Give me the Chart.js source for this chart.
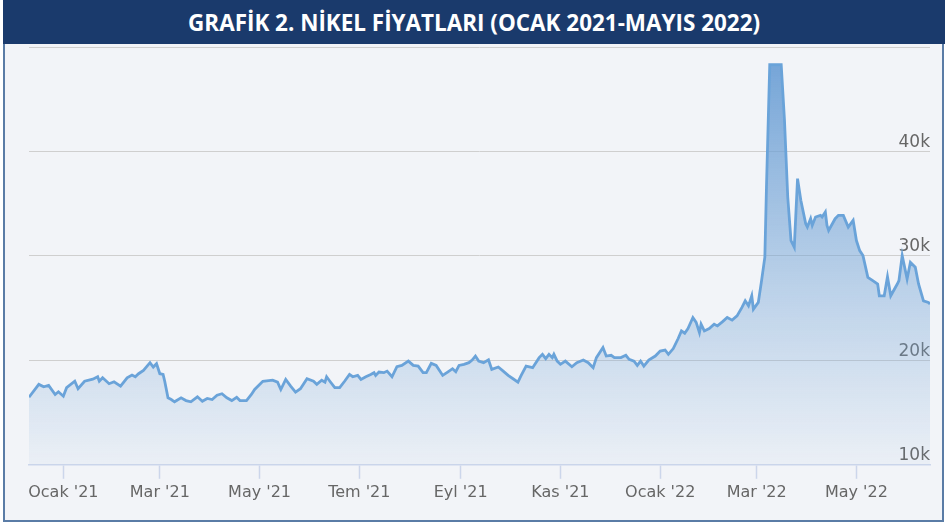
<!DOCTYPE html>
<html>
<head>
<meta charset="utf-8">
<script src="https://cdn.jsdelivr.net/npm/chart.js@4.4.1/dist/chart.umd.min.js"></script>
<style>
  html, body { margin: 0; padding: 0; background: #ffffff; }
  #wrap { position: absolute; left: 0; top: 0; width: 945px; height: 525px; overflow: hidden; background: #fff; }
  #frame { position: absolute; left: 3px; top: 0; width: 937px; height: 520px; border: 2px solid #5a7ca6; border-top: none; background: #f2f4f8; }
  #banner { position: absolute; left: 3px; top: 0; width: 942px; height: 44px; background: #1a3a6c; text-align: center; }
  #title { display: inline-block; color: #fff; font-family: "Open Sans", "Liberation Sans", sans-serif; font-weight: bold;
    font-size: 23px; line-height: 44px; white-space: nowrap; transform-origin: 50% 50%; }
  #c { position: absolute; left: 5px; top: 44px; }
</style>
</head>
<body>
<div id="wrap">
  <div id="frame"></div>
  <div id="banner"><span id="title">GRAFİK 2. NİKEL FİYATLARI (OCAK 2021-MAYIS 2022)</span></div>
  <canvas id="c" width="935" height="476"></canvas>
</div>
<script>
// Days since 1 Jan 2021
const days = [-21,-15,-12,-9,-5,-3,0,2,7,9,13,18,21,22,24,28,31,35,39,42,44,46,49,53,55,57,59,61,62,64,66,68,72,75,78,82,85,88,91,94,97,100,103,106,108,112,115,117,122,128,131,133,136,139,142,145,149,153,155,158,160,161,163,166,169,172,175,177,180,182,185,188,190,191,193,196,198,201,204,207,211,214,217,220,222,225,228,232,235,238,240,242,245,248,250,252,254,257,260,262,266,269,272,275,278,280,283,287,291,293,295,297,299,300,302,304,307,311,314,318,321,324,326,330,332,335,337,341,344,346,349,351,353,355,358,362,365,368,370,373,376,378,380,382,385,387,389,390,392,395,398,400,403,406,409,412,415,417,419,421,422,425,427,429,430,432,439,441,443,445,447,449,451,454,455,457,458,460,463,464,466,467,468,472,474,477,480,483,485,487,489,492,495,498,499,502,504,506,510,511,513,516,518,521,523,526,529,530];
// Nickel price, thousand USD/ton
const prices = [16.47,17.7,17.47,17.6,16.73,16.99,16.57,17.38,18.0,17.28,18.0,18.2,18.43,18.0,18.33,17.76,17.95,17.53,18.33,18.59,18.43,18.72,19.04,19.78,19.36,19.68,18.72,18.65,18.0,16.41,16.25,16.03,16.41,16.15,16.03,16.51,16.09,16.35,16.25,16.66,16.8,16.41,16.15,16.47,16.15,16.15,16.73,17.21,18.0,18.1,17.91,17.21,18.17,17.53,16.95,17.28,18.24,18.0,17.7,18.1,17.91,18.43,18.0,17.38,17.38,18.0,18.65,18.43,18.56,18.17,18.43,18.65,18.82,18.56,18.88,18.82,18.97,18.43,19.39,19.52,19.93,19.52,19.45,18.82,18.82,19.71,19.52,18.56,18.88,19.2,18.91,19.52,19.62,19.78,20.03,20.41,19.93,19.78,20.05,19.13,19.36,18.97,18.56,18.24,17.91,18.56,19.45,19.3,20.26,20.58,20.16,20.58,20.26,20.58,19.93,19.62,19.93,19.39,19.78,20.03,19.78,19.3,20.26,21.22,20.41,20.48,20.26,20.26,20.48,20.1,19.93,19.52,19.93,19.45,20.03,20.41,20.89,20.99,20.58,21.13,22.09,22.82,22.6,23.05,24.1,23.63,22.66,23.46,22.82,23.05,23.46,23.3,23.68,24.1,23.85,24.26,25.07,25.7,25.22,26.18,24.9,25.55,27.63,29.87,36.6,48.3,48.3,43.0,35.64,31.47,30.83,37.4,35.32,33.08,32.76,33.56,32.92,33.72,33.88,33.72,34.2,32.92,32.44,33.56,33.88,33.88,32.76,33.4,31.47,30.51,30.03,27.95,27.63,27.31,26.18,26.18,28.0,26.18,27.31,27.63,30.03,27.79,29.39,28.91,27.31,25.7,25.55,25.4];
const tickDates = ['2021-01-01','2021-03-01','2021-05-01','2021-07-01','2021-09-01','2021-11-01','2022-01-01','2022-03-01','2022-05-01'];
const tickLabels = ["Ocak '21","Mar '21","May '21","Tem '21","Eyl '21","Kas '21","Ocak '22","Mar '22","May '22"];
const yTicks = [10, 20, 30, 40, 50];

// fit title width
const t = document.getElementById('title');
const tw = t.getBoundingClientRect().width;
t.style.transform = 'scaleX(' + (572 / tw) + ')';

const base = Date.UTC(2021, 0, 1);
const tickDays = tickDates.map(d => Math.round((Date.parse(d + 'T00:00:00Z') - base) / 86400000));
const points = days.map((d, i) => ({ x: d, y: prices[i] }));

new Chart(document.getElementById('c'), {
  type: 'line',
  data: {
    datasets: [{
      data: points,
      borderColor: '#6aa3d9',
      borderWidth: 2.8,
      pointRadius: 0,
      tension: 0,
      fill: 'start',
      backgroundColor: (ctx) => {
        const ca = ctx.chart.chartArea;
        if (!ca) return 'rgba(124,170,215,0.3)';
        const g = ctx.chart.ctx.createLinearGradient(0, ca.top, 0, ca.bottom);
        g.addColorStop(0, 'rgba(105,157,212,0.95)');
        g.addColorStop(1, 'rgba(124,170,215,0.06)');
        return g;
      }
    }]
  },
  options: {
    responsive: false,
    animation: false,
    devicePixelRatio: 1,
    layout: { padding: { left: 24, right: 10, top: 3, bottom: 14 } },
    plugins: { legend: { display: false }, tooltip: { enabled: false } },
    scales: {
      x: {
        type: 'linear',
        min: -21,
        max: 530,
        afterBuildTicks: (scale) => { scale.ticks = tickDays.map(v => ({ value: v })); },
        afterFit: (scale) => { scale.paddingLeft = 0; scale.paddingRight = 0; },
        ticks: {
          autoSkip: false,
          maxRotation: 0,
          padding: 4,
          color: '#666666',
          font: { family: 'DejaVu Sans', size: 16 },
          callback: (v) => { const i = tickDays.indexOf(v); return i >= 0 ? tickLabels[i] : ''; }
        },
        grid: { drawOnChartArea: false, drawTicks: true, tickLength: 14, tickColor: '#ccd6eb', tickWidth: 1.5 },
        border: { display: true, color: '#ccd6eb', width: 1.5 }
      },
      y: {
        position: 'right',
        min: 10,
        max: 50,
        afterBuildTicks: (scale) => { scale.ticks = yTicks.map(v => ({ value: v })); },
        afterFit: (scale) => { scale.paddingTop = 0; scale.paddingBottom = 0; },
        ticks: {
          mirror: true,
          padding: 0,
          labelOffset: -9,
          color: '#666666',
          font: { family: 'DejaVu Sans', size: 17 },
          callback: (v) => v === 50 ? '' : v + 'k'
        },
        grid: { color: (c) => c.tick && c.tick.value === 10 ? 'rgba(0,0,0,0)' : '#cfcfcf', lineWidth: 1, drawTicks: false },
        border: { display: false }
      }
    }
  }
});
</script>
</body>
</html>
